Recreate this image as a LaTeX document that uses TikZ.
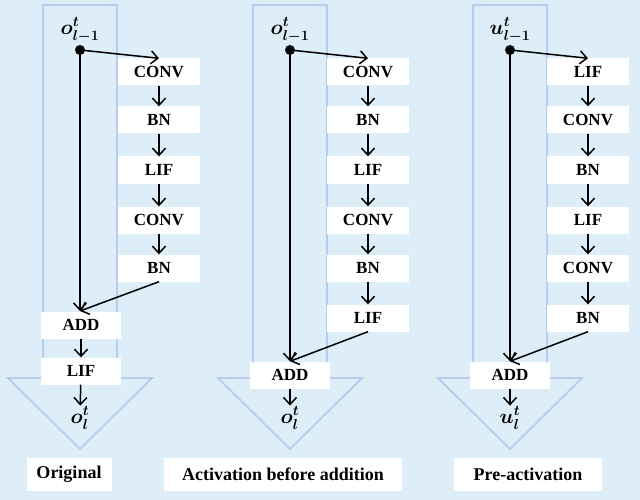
\documentclass[tikz,border=0pt]{standalone}
\usepackage{amsmath}
\usepackage{bm}
\usepackage{fontspec}
\setmainfont{Liberation Serif}
\usetikzlibrary{arrows.meta}
\definecolor{bgc}{HTML}{DDEEF8}
\definecolor{bigc}{HTML}{B8CCF0}
\begin{document}
\begin{tikzpicture}[x=1pt,y=-1pt,
  bx/.style={fill=white,draw=none,minimum width=82pt,minimum height=27pt,inner sep=0pt,font=\fontsize{17}{19}\selectfont\bfseries},
  lb/.style={fill=white,draw=none,minimum height=33pt,inner sep=0pt,font=\fontsize{18}{20}\selectfont\bfseries},
  ar/.style={draw=black,line width=1.5pt,-{Straight Barb[length=7pt,width=13pt,line width=1.5pt]}},
  mth/.style={font=\fontsize{20}{22}\selectfont,inner sep=1pt}]
\fill[bgc] (0,0) rectangle (640,500);
\useasboundingbox (0,0) rectangle (640,500);
\foreach \cx in {80,290,510}{
 \draw[draw=bigc,line width=1.8pt] (\cx-37,5)--(\cx+37,5)--(\cx+37,378)--(\cx+72,378)--(\cx,449)--(\cx-72,378)--(\cx-37,378)--cycle;}
% panel 1
\node[mth] (i1) at (80,30) {$\bm{o_{l-1}^t}$};
\fill (80,50) circle (5pt); \coordinate (d1) at (80,50);
\node[bx] (a1) at (159,72) {CONV};
\node[bx] (a2) at (159,120) {BN};
\node[bx] (a3) at (159,170) {LIF};
\node[bx] (a4) at (159,220) {CONV};
\node[bx] (a5) at (159,268) {BN};
\node[bx,minimum width=80pt] (s1) at (81,325) {ADD};
\node[bx,minimum width=80pt] (s2) at (81,371) {LIF};
\node[mth] (o1) at (80,418) {$\bm{o_{l}^t}$};
\draw[ar] (d1)--(a1.north);
\draw[ar] (a1)--(a2); \draw[ar] (a2)--(a3); \draw[ar] (a3)--(a4); \draw[ar] (a4)--(a5);
\draw[ar] (d1)--(80,311);
\draw[ar] (a5.south)--(80,311);
\draw[ar] (s1)--(s2); \draw[ar] (s2)--(o1);
\node[lb,minimum width=85pt] (l1) at (69,474) {Original};
% panel 2
\node[mth] (i2) at (290,30) {$\bm{o_{l-1}^t}$};
\fill (290,50) circle (5pt); \coordinate (d2) at (290,50);
\node[bx] (b1) at (368,72) {CONV};
\node[bx] (b2) at (368,120) {BN};
\node[bx] (b3) at (368,170) {LIF};
\node[bx] (b4) at (368,220) {CONV};
\node[bx] (b5) at (368,268) {BN};
\node[bx] (b6) at (368,318) {LIF};
\node[bx,minimum width=80pt] (t1) at (290,375) {ADD};
\node[mth] (o2) at (290,418) {$\bm{o_{l}^t}$};
\draw[ar] (d2)--(b1.north);
\draw[ar] (b1)--(b2); \draw[ar] (b2)--(b3); \draw[ar] (b3)--(b4); \draw[ar] (b4)--(b5); \draw[ar] (b5)--(b6);
\draw[ar] (d2)--(t1.north);
\draw[ar] (b6.south)--(t1.north);
\draw[ar] (t1)--(o2);
\node[lb,minimum width=238pt] (l2) at (283,474) {Activation before addition};
% panel 3
\node[mth] (i3) at (510,30) {$\bm{u_{l-1}^t}$};
\fill (510,50) circle (5pt); \coordinate (d3) at (510,50);
\node[bx] (c1) at (588,72) {LIF};
\node[bx] (c2) at (588,120) {CONV};
\node[bx] (c3) at (588,170) {BN};
\node[bx] (c4) at (588,220) {LIF};
\node[bx] (c5) at (588,268) {CONV};
\node[bx] (c6) at (588,318) {BN};
\node[bx,minimum width=80pt] (r1) at (510,375) {ADD};
\node[mth] (o3) at (510,418) {$\bm{u_{l}^t}$};
\draw[ar] (d3)--(c1.north);
\draw[ar] (c1)--(c2); \draw[ar] (c2)--(c3); \draw[ar] (c3)--(c4); \draw[ar] (c4)--(c5); \draw[ar] (c5)--(c6);
\draw[ar] (d3)--(r1.north);
\draw[ar] (c6.south)--(r1.north);
\draw[ar] (r1)--(o3);
\node[lb,minimum width=148pt] (l3) at (528,474) {Pre-activation};
\end{tikzpicture}
\end{document}
